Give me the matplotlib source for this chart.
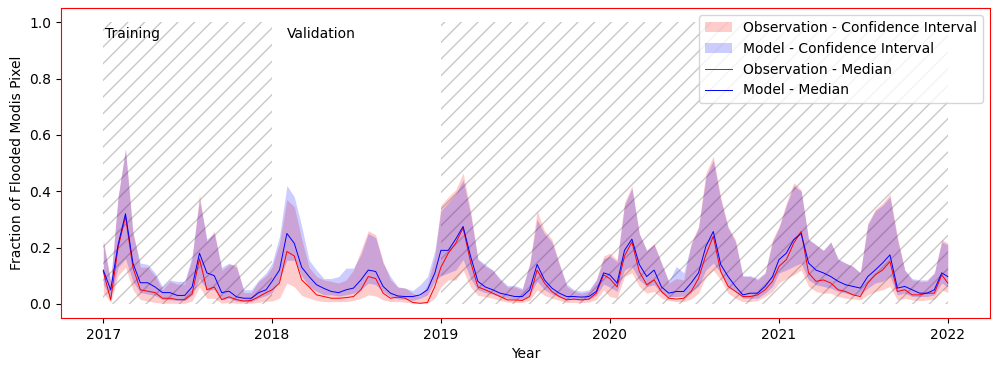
import numpy as np
import pandas as pd
import matplotlib
matplotlib.use("Agg")
import matplotlib.pyplot as plt
import matplotlib.dates as mdates

# 16-day composites, 23 per year, plus the closing date
years = [2017, 2018, 2019, 2020, 2021]
dates = []
for y in years:
    dates += list(pd.date_range(f"{y}-01-01", periods=23, freq="16D"))
dates.append(pd.Timestamp("2022-01-01"))

obs_med = [
    0.115, 0.014, 0.20, 0.31, 0.13, 0.05, 0.045, 0.04, 0.02, 0.02, 0.015, 0.015, 0.035, 0.16, 0.05, 0.06, 0.015, 0.025, 0.015, 0.01, 0.012, 0.025, 0.04,
    0.05, 0.074, 0.186, 0.17, 0.085, 0.06, 0.032, 0.026, 0.02, 0.02, 0.022, 0.026, 0.05, 0.097, 0.09, 0.038, 0.02, 0.024, 0.02, 0.005, 0.002, 0.005, 0.062,
    0.13, 0.18, 0.215, 0.27, 0.15, 0.06, 0.05, 0.038, 0.026, 0.014, 0.014, 0.012, 0.026, 0.12, 0.074, 0.044, 0.026, 0.014, 0.017, 0.014, 0.017, 0.038, 0.103,
    0.09, 0.06, 0.17, 0.22, 0.115, 0.068, 0.085, 0.044, 0.02, 0.017, 0.02, 0.044, 0.09, 0.174, 0.24, 0.115, 0.062, 0.044, 0.026, 0.026, 0.032, 0.05, 0.08,
    0.133, 0.157, 0.216, 0.257, 0.11, 0.08, 0.085, 0.074, 0.05, 0.044, 0.032, 0.026, 0.074, 0.103, 0.12, 0.15, 0.044, 0.05, 0.032, 0.032, 0.038, 0.038, 0.103,
    0.074,
]
mod_med = [
    0.12, 0.05, 0.21, 0.32, 0.145, 0.075, 0.075, 0.06, 0.04, 0.04, 0.03, 0.03, 0.06, 0.18, 0.11, 0.10, 0.04, 0.045, 0.025, 0.02, 0.02, 0.04, 0.05,
    0.08, 0.12, 0.25, 0.215, 0.13, 0.097, 0.068, 0.055, 0.044, 0.04, 0.05, 0.056, 0.085, 0.12, 0.115, 0.062, 0.038, 0.028, 0.026, 0.026, 0.032, 0.05, 0.11,
    0.19, 0.19, 0.23, 0.275, 0.17, 0.08, 0.06, 0.05, 0.038, 0.032, 0.026, 0.026, 0.05, 0.14, 0.085, 0.056, 0.038, 0.026, 0.026, 0.024, 0.026, 0.044, 0.11,
    0.103, 0.074, 0.19, 0.23, 0.14, 0.097, 0.12, 0.06, 0.038, 0.044, 0.044, 0.074, 0.11, 0.204, 0.257, 0.14, 0.097, 0.062, 0.032, 0.038, 0.038, 0.062, 0.097,
    0.157, 0.18, 0.228, 0.25, 0.145, 0.12, 0.11, 0.097, 0.08, 0.068, 0.062, 0.056, 0.097, 0.12, 0.145, 0.174, 0.056, 0.062, 0.05, 0.038, 0.038, 0.05, 0.11,
    0.097,
]
obs_hi = [
    0.23, 0.08, 0.38, 0.55, 0.26, 0.13, 0.13, 0.10, 0.05, 0.08, 0.07, 0.07, 0.16, 0.39, 0.22, 0.26, 0.12, 0.14, 0.14, 0.04, 0.04, 0.08, 0.10,
    0.13, 0.215, 0.37, 0.345, 0.23, 0.13, 0.097, 0.085, 0.08, 0.074, 0.085, 0.12, 0.19, 0.26, 0.245, 0.15, 0.085, 0.06, 0.056, 0.038, 0.026, 0.068, 0.17,
    0.35, 0.38, 0.405, 0.465, 0.335, 0.157, 0.133, 0.12, 0.085, 0.06, 0.06, 0.05, 0.145, 0.33, 0.26, 0.23, 0.145, 0.062, 0.044, 0.038, 0.044, 0.085, 0.17,
    0.18, 0.157, 0.36, 0.42, 0.25, 0.19, 0.215, 0.145, 0.074, 0.09, 0.085, 0.215, 0.275, 0.465, 0.525, 0.38, 0.275, 0.228, 0.097, 0.097, 0.085, 0.11, 0.228,
    0.275, 0.358, 0.43, 0.405, 0.228, 0.21, 0.19, 0.22, 0.157, 0.145, 0.133, 0.11, 0.287, 0.335, 0.358, 0.39, 0.24, 0.12, 0.085, 0.08, 0.08, 0.11, 0.228,
    0.216,
]
mod_hi = [
    0.22, 0.08, 0.38, 0.55, 0.25, 0.145, 0.14, 0.11, 0.06, 0.085, 0.08, 0.08, 0.17, 0.37, 0.23, 0.25, 0.13, 0.145, 0.13, 0.05, 0.05, 0.085, 0.11,
    0.145, 0.24, 0.42, 0.38, 0.275, 0.155, 0.12, 0.09, 0.09, 0.097, 0.127, 0.127, 0.175, 0.25, 0.235, 0.145, 0.097, 0.06, 0.056, 0.047, 0.068, 0.097, 0.19,
    0.33, 0.36, 0.39, 0.44, 0.32, 0.16, 0.14, 0.12, 0.09, 0.065, 0.065, 0.055, 0.14, 0.30, 0.25, 0.22, 0.14, 0.07, 0.05, 0.045, 0.05, 0.085, 0.16,
    0.17, 0.15, 0.35, 0.41, 0.25, 0.19, 0.21, 0.145, 0.08, 0.133, 0.11, 0.21, 0.27, 0.45, 0.51, 0.37, 0.27, 0.22, 0.10, 0.10, 0.09, 0.11, 0.22,
    0.27, 0.35, 0.42, 0.40, 0.23, 0.21, 0.19, 0.22, 0.16, 0.145, 0.133, 0.11, 0.28, 0.33, 0.35, 0.38, 0.23, 0.12, 0.09, 0.085, 0.085, 0.11, 0.22,
    0.21,
]
obs_lo = [
    0.04, 0.005, 0.10, 0.13, 0.05, 0.015, 0.01, 0.005, 0.002, 0.002, 0.002, 0.002, 0.01, 0.06, 0.02, 0.02, 0.002, 0.005, 0.002, 0.002, 0.002, 0.005, 0.01,
    0.01, 0.02, 0.074, 0.06, 0.03, 0.02, 0.012, 0.008, 0.008, 0.008, 0.008, 0.012, 0.02, 0.032, 0.028, 0.014, 0.008, 0.008, 0.006, 0.002, 0.002, 0.002, 0.02,
    0.06, 0.085, 0.085, 0.12, 0.06, 0.03, 0.026, 0.02, 0.012, 0.006, 0.005, 0.005, 0.012, 0.05, 0.03, 0.02, 0.012, 0.005, 0.005, 0.005, 0.006, 0.015, 0.05,
    0.026, 0.02, 0.097, 0.11, 0.062, 0.038, 0.044, 0.02, 0.012, 0.008, 0.008, 0.017, 0.038, 0.097, 0.12, 0.085, 0.038, 0.02, 0.008, 0.008, 0.012, 0.026, 0.044,
    0.074, 0.09, 0.103, 0.12, 0.062, 0.044, 0.038, 0.038, 0.026, 0.02, 0.017, 0.014, 0.032, 0.044, 0.05, 0.062, 0.014, 0.02, 0.014, 0.012, 0.014, 0.017, 0.05,
    0.04,
]
mod_lo = [
    0.07, 0.02, 0.13, 0.16, 0.08, 0.04, 0.035, 0.03, 0.015, 0.015, 0.012, 0.012, 0.03, 0.09, 0.05, 0.05, 0.015, 0.02, 0.01, 0.008, 0.008, 0.02, 0.03,
    0.04, 0.085, 0.155, 0.155, 0.10, 0.06, 0.045, 0.032, 0.032, 0.028, 0.032, 0.038, 0.05, 0.074, 0.068, 0.044, 0.026, 0.017, 0.017, 0.012, 0.02, 0.032, 0.08,
    0.10, 0.11, 0.12, 0.157, 0.09, 0.05, 0.04, 0.035, 0.025, 0.02, 0.018, 0.016, 0.03, 0.08, 0.05, 0.035, 0.025, 0.015, 0.015, 0.014, 0.015, 0.03, 0.07,
    0.06, 0.044, 0.12, 0.133, 0.085, 0.062, 0.068, 0.038, 0.026, 0.026, 0.028, 0.044, 0.062, 0.12, 0.145, 0.11, 0.062, 0.044, 0.02, 0.02, 0.02, 0.038, 0.062,
    0.11, 0.12, 0.133, 0.145, 0.085, 0.068, 0.062, 0.056, 0.044, 0.038, 0.032, 0.032, 0.056, 0.074, 0.08, 0.097, 0.032, 0.038, 0.026, 0.026, 0.026, 0.032, 0.074,
    0.06,
]

# hatched periods (training / test) and labels
periods = [("2017-01-01", "2018-01-01"), ("2019-01-01", "2022-01-01")]
labels = [("Training", "2017-01-04"), ("Validation", "2018-02-03")]

fig = plt.figure(figsize=(10.01, 3.71), dpi=100)
ax = fig.add_axes([0.061, 0.143, 0.928, 0.835])

for start, end in periods:
    ax.fill_between(pd.to_datetime([start, end]), 0, 1, hatch="//",
                    facecolor="none", edgecolor="#c8c8c8", linewidth=0)

ax.fill_between(dates, obs_lo, obs_hi, color="red", alpha=0.2, linewidth=0,
                label="Observation - Confidence Interval")
ax.fill_between(dates, mod_lo, mod_hi, color="blue", alpha=0.2, linewidth=0,
                label="Model - Confidence Interval")
ax.plot(dates, obs_med, color="red", linewidth=0.7, label="Observation - Median")
ax.plot(dates, mod_med, color="blue", linewidth=0.7, label="Model - Median")

for txt, d in labels:
    ax.text(pd.Timestamp(d), 0.96, txt, va="center", ha="left", fontsize=10)

ax.xaxis.set_major_locator(mdates.YearLocator())
ax.xaxis.set_major_formatter(mdates.DateFormatter("%Y"))
ax.set_xlabel("Year")
ax.set_ylabel("Fraction of Flooded Modis Pixel")
for s in ax.spines.values():
    s.set_color("red")
ax.legend(loc="upper right")

fig.savefig("out.png", dpi=100)
